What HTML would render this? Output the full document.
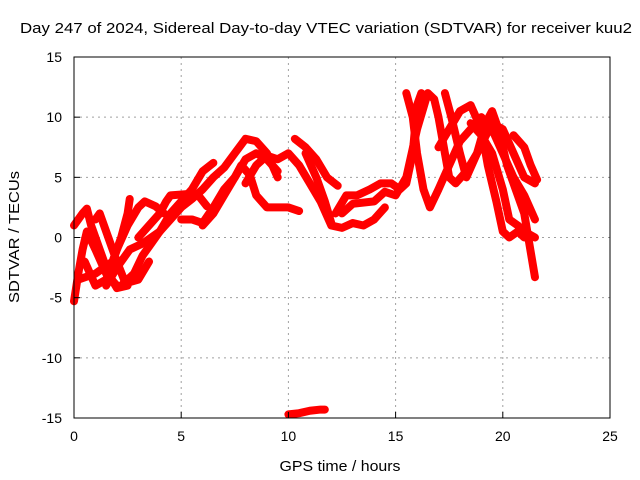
<!DOCTYPE html>
<html><head><meta charset="utf-8"><style>
body{margin:0;background:#fff;}
svg{display:block;font-family:"Liberation Sans",sans-serif;}
</style></head><body>
<svg id="chart" width="640" height="480">
<text x="326" y="33" text-anchor="middle" font-size="15" textLength="612" lengthAdjust="spacingAndGlyphs">Day 247 of 2024, Sidereal Day-to-day VTEC variation (SDTVAR) for receiver kuu2</text>
<text x="340" y="471" text-anchor="middle" font-size="15" textLength="121" lengthAdjust="spacingAndGlyphs">GPS time / hours</text>
<text transform="translate(19,237) rotate(-90)" text-anchor="middle" font-size="15" textLength="132" lengthAdjust="spacingAndGlyphs">SDTVAR / TECUs</text>
<g id="grid"></g><g id="series"></g><g id="axes"></g>
</svg>
<script>
const xTicks=[0,5,10,15,20,25];
const yTicks=[-15,-10,-5,0,5,10,15];
const traces=[
[[0,-5.3],[0.2,-3],[0.4,-1],[0.6,0.5],[1,-1],[1.5,-3],[2,-4]],
[[0,1],[0.4,2],[0.6,2.4],[0.8,1],[1.2,-1],[1.6,-3],[2,-4.2],[2.5,-4]],
[[0.2,-3.5],[1,-3],[1.8,-2],[2.2,0],[2.5,2],[2.6,3.2]],
[[1,1.5],[1.2,2],[1.6,0],[2,-2],[2.4,-3.8],[3,-3.5],[3.5,-2]],
[[0.5,-2],[1,-4],[1.5,-3.5],[2,-1],[2.5,1],[3,2.5],[3.3,3],[3.8,2.6],[4.2,2]],
[[1.5,-4],[2,-2.5],[2.6,-1],[3.2,-0.5],[3.6,0],[4,0.5],[4.5,1.5],[5,2.5],[5.5,3.2],[6,4],[6.5,5],[7,5.8],[7.5,7],[8,8.2],[8.5,8],[9,7],[9.5,5]],
[[2.2,-4],[2.8,-3],[3.2,-1.5],[3.6,-0.5],[4,0.5],[4.5,2],[5,3],[5.5,4],[6,5.5],[6.5,6.2]],
[[3,0],[3.5,1],[4,2],[4.3,3],[4.5,3.5],[5.2,3.6],[5.8,3.5],[6.2,2.6]],
[[5,1.5],[5.5,1.5],[6,1.2],[6.5,2.5],[7,4],[7.5,5],[8,6.5],[8.5,7],[9,6.5],[9.5,5.5]],
[[6,1],[6.5,2],[7,3.5],[7.5,5],[7.8,6],[8.2,5.2],[8.5,3.5],[9,2.5],[9.5,2.5],[10,2.5],[10.5,2.2]],
[[8,4.5],[8.5,6],[9,6.8],[9.5,6.5],[10,7],[10.5,6],[11,4.5],[11.5,3],[12,1],[12.5,0.8],[13,1.2],[13.5,1],[14,1.5],[14.5,2.5]],
[[10.3,8.2],[10.8,7.5],[11.3,6.5],[11.8,5],[12.3,4.3]],
[[10.8,7],[11.3,5],[11.7,3],[12,1.2]],
[[12.2,2],[12.7,3.5],[13.2,3.5],[13.8,4],[14.3,4.5],[14.8,4.5],[15.2,4],[15.5,4.5],[15.8,7],[16,11],[16.2,12]],
[[12.5,2],[13,2.8],[14,3],[14.5,3.8],[15,3.5],[15.5,5],[16,9],[16.5,12],[16.8,11.5],[17,10],[17.3,7],[17.5,5],[17.8,4.5],[18.3,5.5],[18.8,7],[19.5,9.5],[20,9],[20.5,7],[21,5],[21.5,4.5]],
[[15.5,12],[15.8,10],[16,7],[16.3,4],[16.6,2.5],[17,4],[17.5,6],[18,8],[18.5,9],[19,10],[19.5,9],[20,7],[20.5,5],[21,3.5],[21.5,1.5]],
[[17.3,12],[17.6,10],[18,7],[18.3,5],[18.8,7],[19.2,9.5],[19.5,10.5],[19.8,9],[20.2,6],[20.6,4],[21,2],[21.5,-3.3]],
[[17,7.5],[17.5,9],[18,10.5],[18.5,11],[19,9],[19.3,6],[19.7,3],[20,0.5],[20.3,0],[20.7,0.5],[21,0]],
[[18.5,9.5],[19,8.5],[19.5,7],[20,4],[20.3,1.5],[20.7,1],[21,0.5],[21.5,0]],
[[20.5,8.5],[21,7.5],[21.3,6],[21.6,4.8]],
[[10,-14.7],[10.5,-14.6],[11,-14.4],[11.5,-14.3],[11.7,-14.3]]
];
const L=74,R=610,T=57,B=418;
const sx=v=>L+(v-0)/(25-0)*(R-L);
const sy=v=>B-(v+15)/(30)*(B-T);
const NS="http://www.w3.org/2000/svg";
function mk(tag,attrs,parent){const e=document.createElementNS(NS,tag);for(const k in attrs)e.setAttribute(k,attrs[k]);parent.appendChild(e);return e;}
const grid=document.getElementById('grid'),ser=document.getElementById('series'),ax=document.getElementById('axes');
xTicks.forEach(t=>{
 if(t>0&&t<25){const g=mk('line',{x1:sx(t),x2:sx(t),y1:T,y2:B,stroke:'#a0a0a0','stroke-dasharray':'2,4'},grid);
 
 }
 const tk=mk('line',{x1:sx(t),x2:sx(t),y1:B,y2:B-6,stroke:'#000'},ax);
 
 
 const lb=mk('text',{x:sx(t),y:B+23,'text-anchor':'middle','font-size':'14'},ax);lb.textContent=t;
 
 
});
yTicks.forEach(t=>{
 if(t>-15&&t<15){const g=mk('line',{x1:L,x2:R,y1:sy(t),y2:sy(t),stroke:'#a0a0a0','stroke-dasharray':'2,4'},grid);
 
 }
 const tk=mk('line',{x1:L,x2:L+6,y1:sy(t),y2:sy(t),stroke:'#000'},ax);
 
 
 const lb=mk('text',{x:L-12,y:sy(t)+5,'text-anchor':'end','font-size':'14'},ax);lb.textContent=t;
 
 
});
const box=mk('rect',{x:L,y:T,width:R-L,height:B-T,fill:'none',stroke:'#000'},ax);


traces.forEach((tr,i)=>{
 const p=mk('polyline',{points:tr.map(d=>sx(d[0])+','+sy(d[1])).join(' '),fill:'none',stroke:'#ff0000','stroke-width':'8','stroke-linejoin':'round','stroke-linecap':'round'},ser);
 
 
});
</script>
</body></html>
